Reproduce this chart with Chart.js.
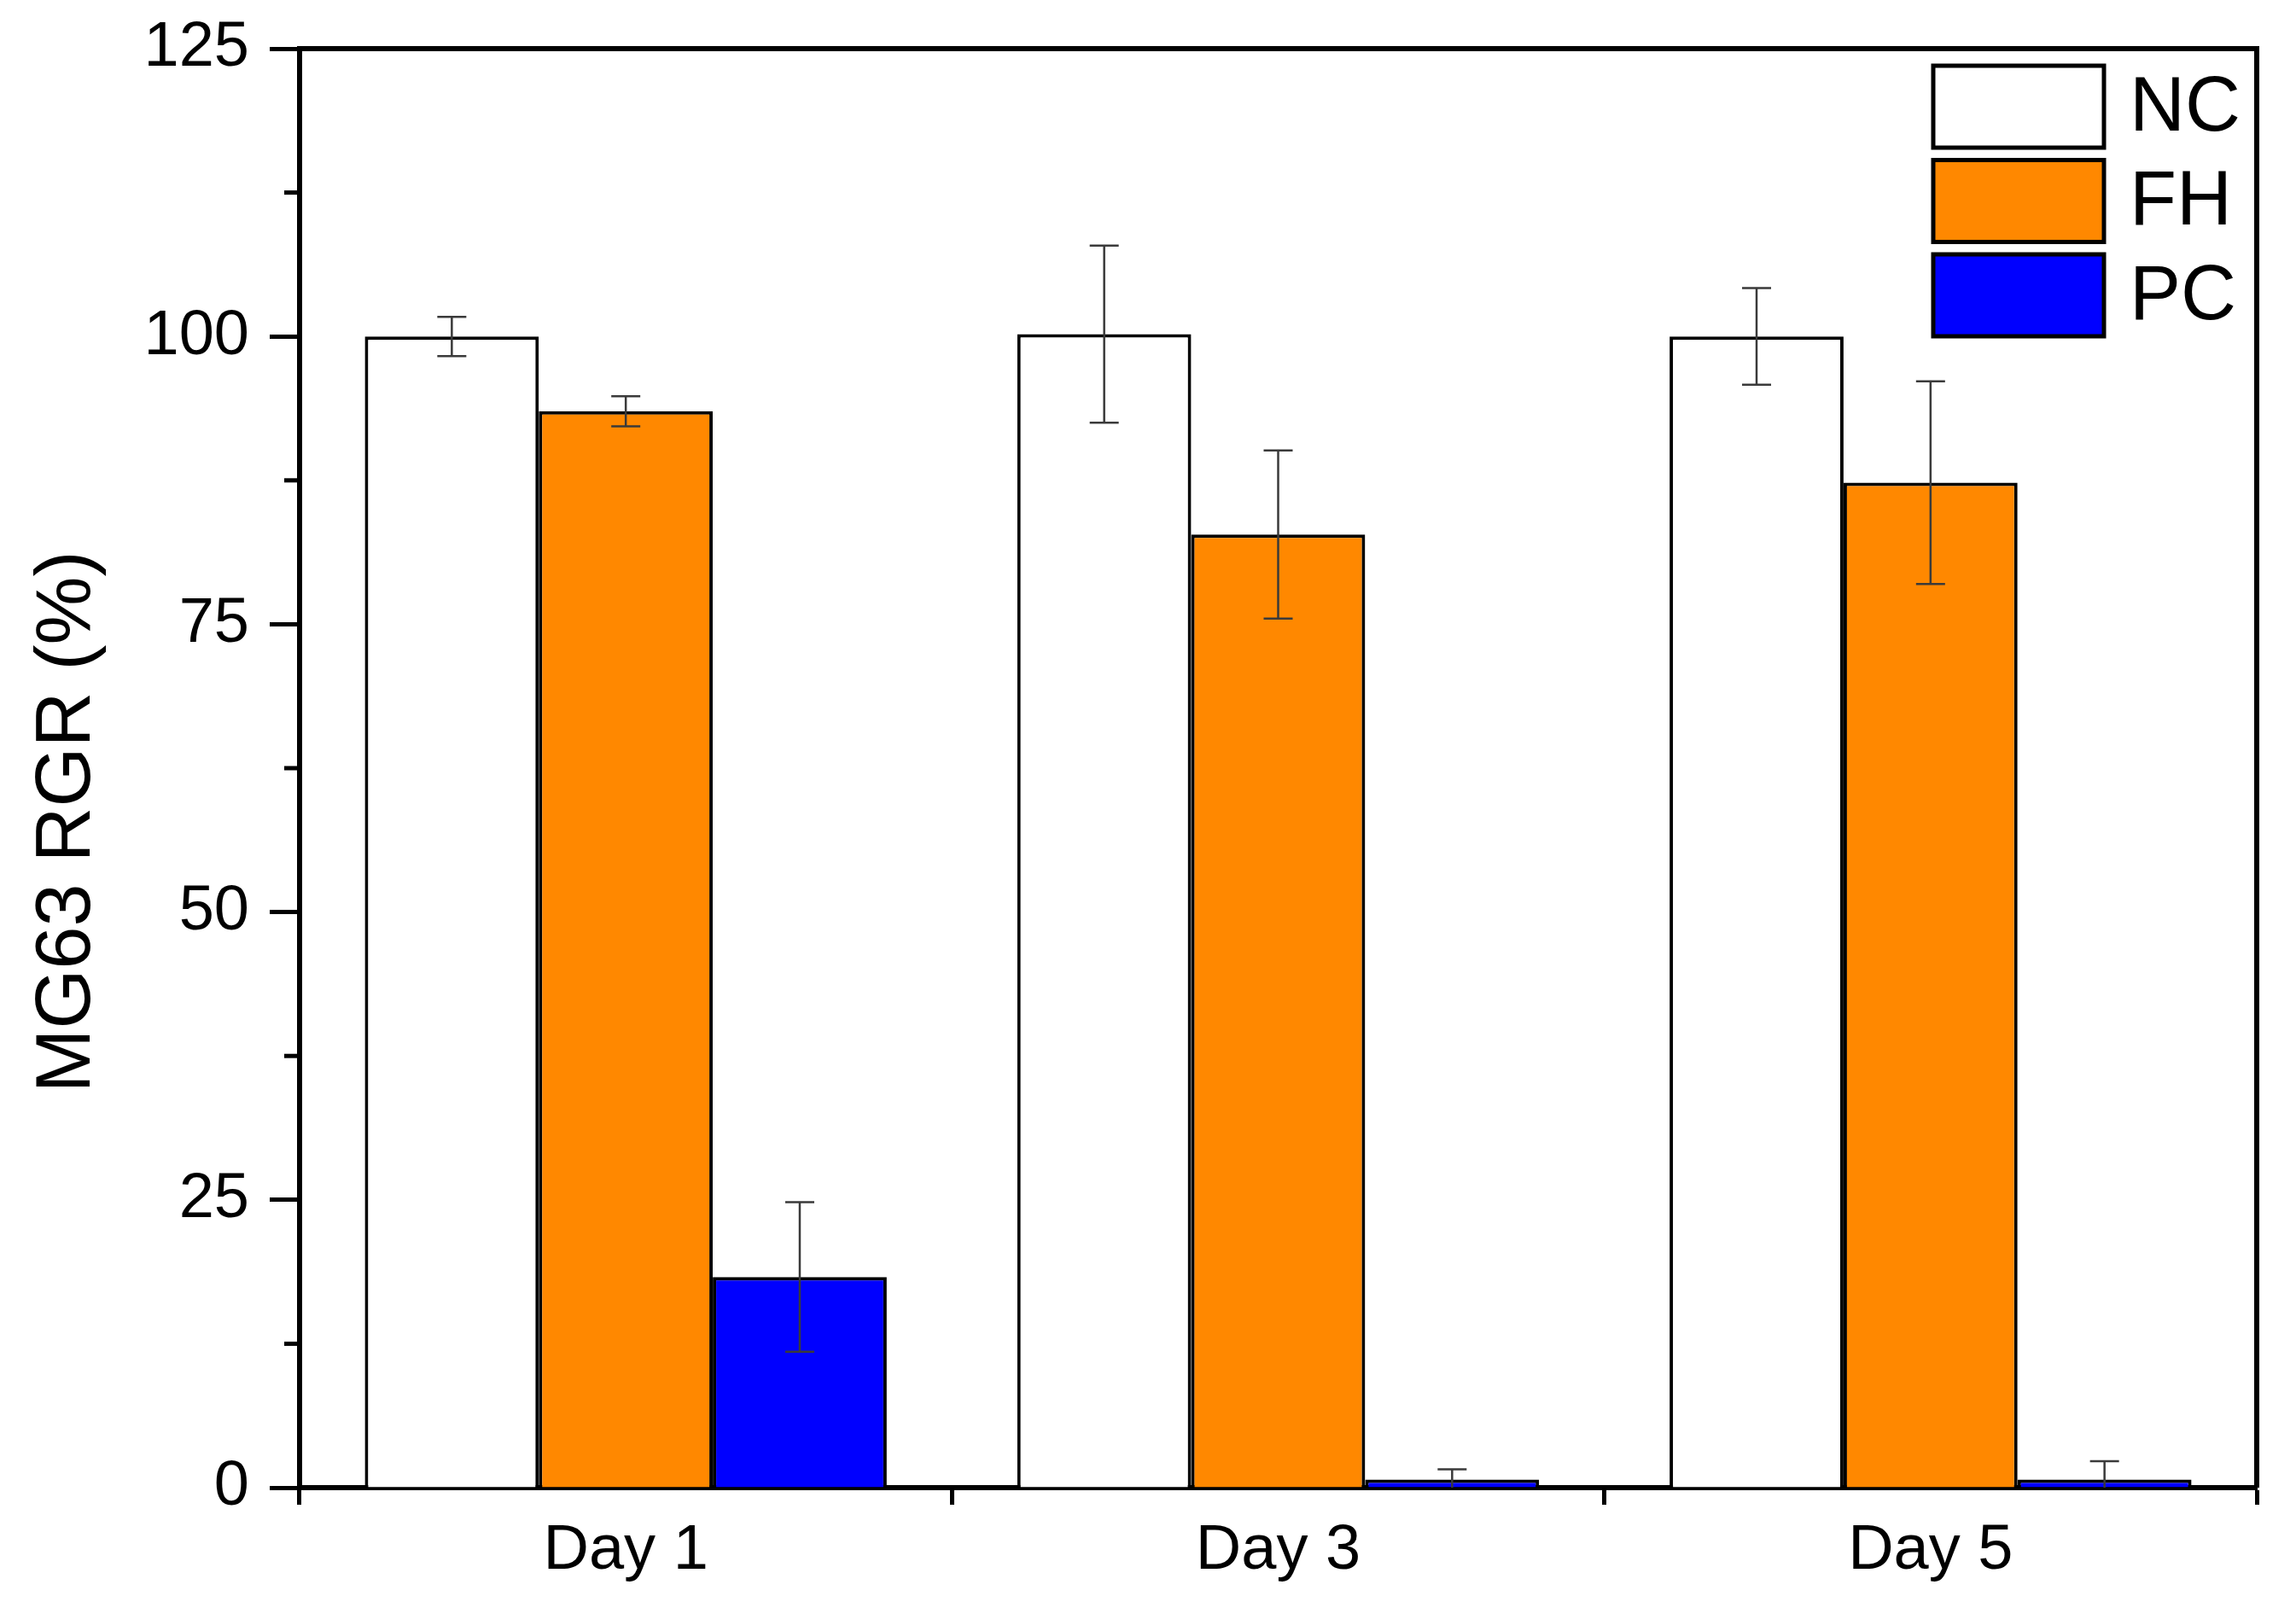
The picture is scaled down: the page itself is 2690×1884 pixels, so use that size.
<!DOCTYPE html>
<html>
<head>
<meta charset="utf-8">
<script src="https://cdn.jsdelivr.net/npm/chart.js@4.4.0/dist/chart.umd.min.js"></script>
<style>
  html, body { margin: 0; padding: 0; background: #fff; }
  canvas { display: block; }
</style>
</head>
<body>
<canvas id="chart" width="2690" height="1884"></canvas>
<script>
// Datos
const categories = ['Day 1', 'Day 3', 'Day 5'];
const seriesNames = ['NC', 'FH', 'PC'];
const ncValues = [100, 100.2, 100];
const ncErrors = [1.7, 7.7, 4.2];
const fhValues = [93.5, 82.8, 87.3];
const fhErrors = [1.3, 7.3, 8.8];
const pcValues = [18.3, 0.7, 0.7];
const pcErrors = [6.5, 0.9, 1.6];
const yTicks = [0, 25, 50, 75, 100, 125];
const yMinorTicks = [12.5, 37.5, 62.5, 87.5, 112.5];

const FONT = '"Liberation Sans", Arial, sans-serif';
const colors = ['#ffffff', '#ff8800', '#0000ff'];
const errors = [ncErrors, fhErrors, pcErrors];
const AXIS_W = 6;

// Barras de error
const errorBars = {
  id: 'errorBars',
  afterDatasetsDraw(chart) {
    const { ctx, scales: { y } } = chart;
    ctx.save();
    ctx.strokeStyle = '#3a3a3a';
    ctx.lineWidth = 2.5;
    chart.data.datasets.forEach((ds, i) => {
      chart.getDatasetMeta(i).data.forEach((bar, j) => {
        const v = ds.data[j], e = errors[i][j];
        const yTop = y.getPixelForValue(v + e), yBot = y.getPixelForValue(v - e < 0 ? 0 : v - e);
        const x = bar.x, cap = 17;
        ctx.beginPath();
        ctx.moveTo(x, yTop); ctx.lineTo(x, yBot);
        ctx.moveTo(x - cap, yTop); ctx.lineTo(x + cap, yTop);
        if (v - e > 0) { ctx.moveTo(x - cap, yBot); ctx.lineTo(x + cap, yBot); }
        ctx.stroke();
      });
    });
    ctx.restore();
  }
};

// Marco, ticks menores, título del eje y leyenda
const frame = {
  id: 'frame',
  afterDraw(chart) {
    const { ctx, chartArea: a, scales: { y } } = chart;
    ctx.save();
    ctx.strokeStyle = '#000';
    ctx.lineWidth = AXIS_W;
    ctx.beginPath();
    ctx.moveTo(a.left - AXIS_W / 2, a.top); ctx.lineTo(a.right, a.top); ctx.lineTo(a.right, a.bottom);
    ctx.stroke();

    ctx.lineWidth = 5;
    yMinorTicks.forEach(v => {
      const py = y.getPixelForValue(v);
      ctx.beginPath();
      ctx.moveTo(a.left - 18, py); ctx.lineTo(a.left, py);
      ctx.stroke();
    });

    // título eje Y
    ctx.fillStyle = '#000';
    ctx.font = `90px ${FONT}`;
    ctx.textAlign = 'center';
    ctx.textBaseline = 'middle';
    ctx.translate(80, 963);
    ctx.rotate(-Math.PI / 2);
    ctx.fillText('MG63 RGR (%)', 0, 0);
    ctx.setTransform(1, 0, 0, 1, 0, 0);

    // leyenda
    const bx = 2265, bw = 200, bh = 96, step = 110.5, by0 = 77;
    chart.data.datasets.forEach((ds, i) => {
      const by = by0 + i * step;
      ctx.fillStyle = ds.backgroundColor;
      ctx.fillRect(bx, by, bw, bh);
      ctx.lineWidth = 5;
      ctx.strokeStyle = '#000';
      ctx.strokeRect(bx, by, bw, bh);
      ctx.fillStyle = '#000';
      ctx.textAlign = 'left';
      ctx.font = `90px ${FONT}`;
      ctx.fillText(ds.label, 2495, by + bh / 2 + 3);
    });
    ctx.restore();
  }
};

new Chart(document.getElementById('chart'), {
  type: 'bar',
  data: {
    labels: categories,
    datasets: [ncValues, fhValues, pcValues].map((vals, i) => ({
      label: seriesNames[i],
      data: vals,
      backgroundColor: colors[i],
      borderColor: '#000',
      borderWidth: 4,
      borderSkipped: 'bottom',
      categoryPercentage: 0.8,
      barPercentage: 1.0
    }))
  },
  options: {
    responsive: false,
    devicePixelRatio: 1,
    animation: false,
    layout: { padding: { top: 57, right: 46, left: 0, bottom: 0 } },
    plugins: { legend: { display: false }, tooltip: { enabled: false } },
    scales: {
      x: {
        offset: true,
        grid: { offset: true, drawOnChartArea: false, tickLength: 20, tickWidth: 5, tickColor: '#000' },
        border: { color: '#000', width: AXIS_W },
        ticks: { color: '#000', font: { family: FONT, size: 74 }, padding: 10 },
        afterFit: s => { s.height = 141; s.paddingLeft = 0; s.paddingRight = 0; }
      },
      y: {
        min: 0,
        max: 125,
        afterBuildTicks: s => { s.ticks = yTicks.map(v => ({ value: v })); },
        grid: { drawOnChartArea: false, tickLength: 35, tickWidth: 5, tickColor: '#000' },
        border: { color: '#000', width: AXIS_W },
        ticks: { color: '#000', font: { family: FONT, size: 74 }, padding: 24 },
        afterFit: s => { s.width = 351; s.paddingTop = 0; s.paddingBottom = 0; }
      }
    }
  },
  plugins: [errorBars, frame]
});
</script>
</body>
</html>
